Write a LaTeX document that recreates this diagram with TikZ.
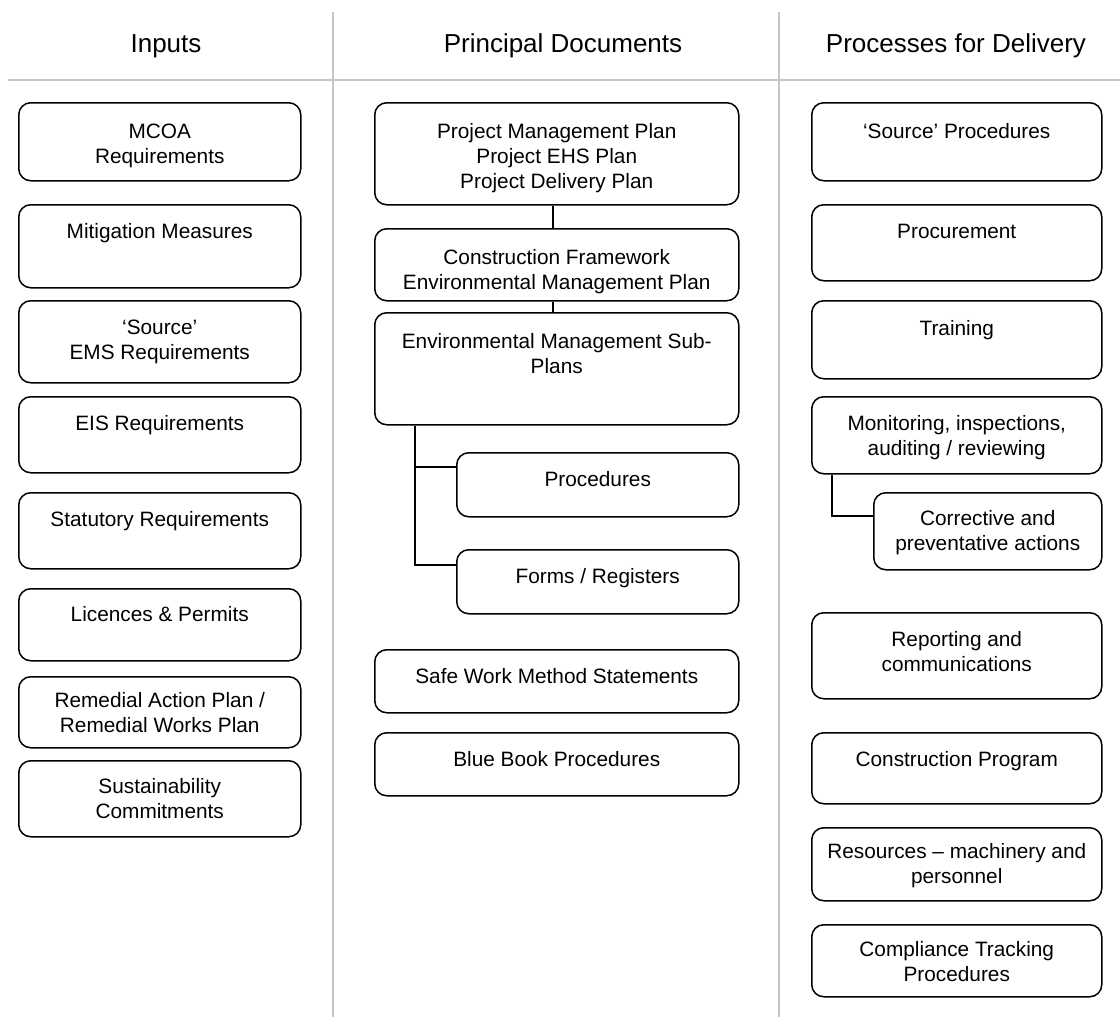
\documentclass[tikz,border=0pt]{standalone}
\usepackage{fontspec}
\setmainfont{Liberation Sans}
\definecolor{sepgray}{RGB}{198,198,198}
% box text: parbox of fixed size, first baseline at #1 below the top
\newcommand{\bxt}[4][33.5pt]{\parbox[t][#3][t]{#2}{\centering\rule{0pt}{#1}#4}}
\tikzset{
  docbox/.style={draw, rounded corners=12pt, line width=1.5pt, inner sep=0pt,
    anchor=north west, font=\fontsize{20.8}{25}\selectfont},
  colhead/.style={anchor=base, inner sep=0pt, font=\fontsize{26}{30}\selectfont},
  sepline/.style={draw=sepgray, line width=1.8pt},
  link/.style={line width=1.5pt}
}
\begin{document}
\begin{tikzpicture}[x=1pt,y=-1pt]
\useasboundingbox (0,0) rectangle (1120,1017);
\fill[white] (0,0) rectangle (1120,1017);

% column separators
\draw[sepline] (333,12) -- (333,1017);
\draw[sepline] (779,12) -- (779,1017);
\draw[sepline] (8,80) -- (1120,80);

% column headings
\node[colhead] (hin)  at (166,52.5) {Inputs};
\node[colhead] (hdoc) at (563,52.5) {Principal Documents};
\node[colhead] (hpro) at (956,52.5) {Processes for Delivery};

% inputs
\node[docbox] (mcoa)   at (18,102) {\bxt[35.5pt]{282pt}{78pt}{MCOA\\Requirements}};
\node[docbox] (mitig)  at (18,204) {\bxt{282pt}{83pt}{Mitigation Measures}};
\node[docbox] (srcems) at (18,300) {\bxt{282pt}{82pt}{‘Source’\\EMS Requirements}};
\node[docbox] (eis)    at (18,396) {\bxt{282pt}{76pt}{EIS Requirements}};
\node[docbox] (stat)   at (18,492) {\bxt{282pt}{76pt}{Statutory Requirements}};
\node[docbox] (lic)    at (18,588) {\bxt[32.5pt]{282pt}{72pt}{Licences \& Permits}};
\node[docbox] (rem)    at (18,676) {\bxt[30.5pt]{282pt}{71pt}{Remedial Action Plan /\\Remedial Works Plan}};
\node[docbox] (sust)   at (18,760) {\bxt[32.5pt]{282pt}{76pt}{Sustainability\\Commitments}};

% principal documents
\node[docbox] (pmp)   at (374,102) {\bxt[35.5pt]{364pt}{102pt}{Project Management Plan\\Project EHS Plan\\Project Delivery Plan}};
\node[docbox] (cfemp) at (374,228) {\bxt[35.5pt]{364pt}{72pt}{Construction Framework\\Environmental Management Plan}};
\node[docbox] (emsp)  at (374,312) {\bxt[35.5pt]{364pt}{112pt}{Environmental Management Sub-\\Plans}};
\node[docbox] (proc)  at (456,452) {\bxt{282pt}{64pt}{Procedures}};
\node[docbox] (forms) at (456,549) {\bxt{282pt}{64pt}{Forms / Registers}};
\node[docbox] (swms)  at (374,649) {\bxt{364pt}{63pt}{Safe Work Method Statements}};
\node[docbox] (blue)  at (374,732) {\bxt{364pt}{63pt}{Blue Book Procedures}};

% processes for delivery
\node[docbox] (srcproc) at (811,102) {\bxt[35.5pt]{290pt}{78pt}{‘Source’ Procedures}};
\node[docbox] (procure) at (811,204) {\bxt{290pt}{76pt}{Procurement}};
\node[docbox] (train)   at (811,300) {\bxt[34.5pt]{290pt}{78pt}{Training}};
\node[docbox] (mon)     at (811,396) {\bxt{290pt}{77pt}{Monitoring, inspections,\\auditing / reviewing}};
\node[docbox] (corr)    at (873,492) {\bxt[32.5pt]{228pt}{77pt}{Corrective and\\preventative actions}};
\node[docbox] (report)  at (811,612) {\bxt{290pt}{86pt}{Reporting and\\communications}};
\node[docbox] (prog)    at (811,732) {\bxt{290pt}{71pt}{Construction Program}};
\node[docbox] (res)     at (811,827) {\bxt[30.5pt]{290pt}{73pt}{Resources – machinery and\\personnel}};
\node[docbox] (comp)    at (811,924) {\bxt[31.5pt]{290pt}{72pt}{Compliance Tracking\\Procedures}};

% connectors
\draw[link] ([xshift=-4pt]pmp.south) -- ([xshift=-4pt]cfemp.north);
\draw[link] ([xshift=-4pt]cfemp.south) -- ([xshift=-4pt]emsp.north);
\coordinate (emspx) at (415,0);
\draw[link] (emsp.south -| emspx) |- ([yshift=-16pt]forms.north west);
\draw[link] ([yshift=-15pt]proc.north west -| emspx) -- ([yshift=-15pt]proc.north west);
\coordinate (monx) at (832,0);
\draw[link] (mon.south -| monx) |- ([yshift=-24pt]corr.north west);
\end{tikzpicture}
\end{document}
